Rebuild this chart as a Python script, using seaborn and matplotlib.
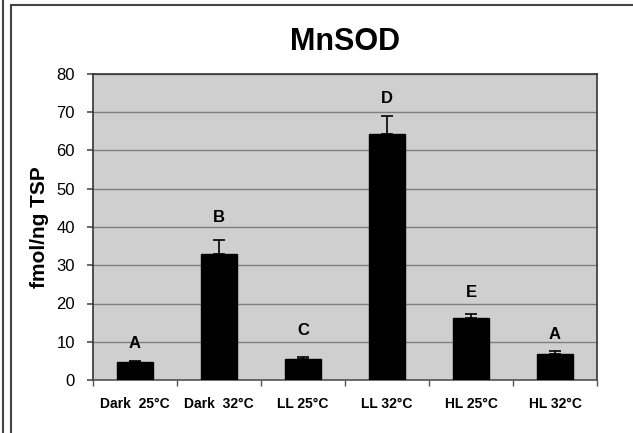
import matplotlib
matplotlib.use("Agg")
import matplotlib.pyplot as plt
import seaborn as sns
import pandas as pd
import numpy as np

categories = ["Dark  25°C", "Dark  32°C", "LL 25°C", "LL 32°C", "HL 25°C", "HL 32°C"]
values = [4.8, 32.9, 5.6, 64.3, 16.1, 6.8]
err_upper = [0.2, 3.7, 0.5, 4.7, 1.2, 0.9]
letters = ["A", "B", "C", "D", "E", "A"]
letter_y = [9.5, 42.5, 13.0, 73.7, 23.0, 11.8]
yticks = [0, 10, 20, 30, 40, 50, 60, 70, 80]

sns.set_theme(style="white")
plt.rcParams["font.family"] = ["Liberation Sans", "DejaVu Sans"]
plt.rcParams["text.color"] = "black"

df = pd.DataFrame({"cond": categories, "val": values})

fig = plt.figure(figsize=(6.33, 4.33), dpi=100)
ax = fig.add_axes([93/633, 1-380/433, 504/633, 306/433])
ax.set_facecolor("#cfcfcf")

sns.barplot(data=df, x="cond", y="val", color="black", width=0.42,
            saturation=1, errorbar=None, ax=ax, zorder=3)
for p in ax.patches:
    p.set_edgecolor("black")

xpos = np.arange(len(categories))
ax.errorbar(xpos, values, yerr=[np.zeros(len(values)), err_upper], fmt="none",
            ecolor="black", elinewidth=1.2, capsize=4, capthick=1.2, zorder=4)

for x, t, y in zip(xpos, letters, letter_y):
    ax.text(x, y, t, ha="center", va="center", fontsize=12, fontweight="bold",
            color="black", zorder=5)

ax.set_ylim(0, 80)
ax.set_xlim(-0.5, len(categories) - 0.5)
ax.set_yticks(yticks)
ax.set_yticklabels([str(v) for v in yticks], fontsize=12, color="black")
ax.yaxis.grid(True, color="#7f7f7f", linewidth=1.0, zorder=0)
ax.set_axisbelow(True)

ax.set_xticks(xpos)
ax.set_xticklabels(categories, fontsize=10, fontweight="bold", color="black")
ax.tick_params(axis="x", which="major", length=0, pad=12)
ax.set_xticks(np.arange(-0.5, len(categories) + 0.5, 1), minor=True)
ax.tick_params(axis="x", which="minor", length=4, color="#555555", direction="out", bottom=True)
ax.tick_params(axis="y", length=4, color="#555555", direction="out", left=True, pad=9)

ax.set_xlabel("")
ax.set_ylabel("fmol/ng TSP", fontsize=15, fontweight="bold", color="black", labelpad=5)
for s in ax.spines.values():
    s.set_color("#333333")
    s.set_linewidth(1.2)
ax.spines["bottom"].set_color("#555555")

fig.text(345/633, 1-41.5/433, "MnSOD", ha="center", va="center", fontsize=22,
         fontweight="bold", color="black")

# outer frame lines
fig.add_artist(plt.Line2D([3/633, 3/633], [0, 1], transform=fig.transFigure, color="#444444", lw=1.5))
fig.add_artist(plt.Line2D([11/633, 11/633], [0, 1-4.5/433], transform=fig.transFigure, color="#444444", lw=1.5))
fig.add_artist(plt.Line2D([11/633, 1], [1-4.5/433, 1-4.5/433], transform=fig.transFigure, color="#444444", lw=1.5))

fig.savefig("out.png", dpi=100)
